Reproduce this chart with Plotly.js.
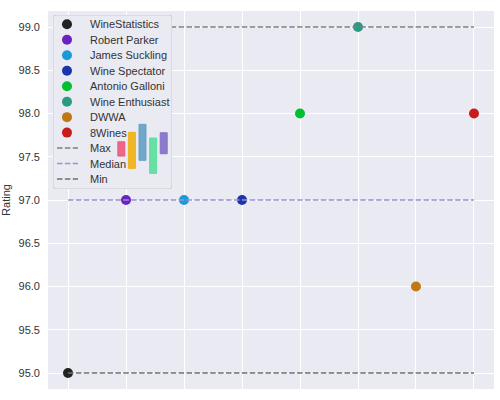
<!DOCTYPE html>
<html>
<head>
<meta charset="utf-8">
<script src="https://cdn.plot.ly/plotly-3.0.1.min.js"></script>
<style>html,body{margin:0;padding:0;background:#fff}#chart{width:500px;height:400px}</style>
</head>
<body>
<div id="chart"></div>
<script>
// ---- data ----
const sources = ['WineStatistics','Robert Parker','James Suckling','Wine Spectator','Antonio Galloni','Wine Enthusiast','DWWA','8Wines'];
const ratings = [95, 97, 97, 97, 98, 99, 96, 98];
const sourceColors = ['#222222','#6a22c0','#1a9ad6','#1a35a8','#00c030','#2a9a82','#c07814','#c81c1c'];
const statLabels = ['Max','Median','Min'];
const statValues = [99, 97, 95];
const statColors = ['#808080','#9a8fd6','#707070'];
const yTicks = [95.0, 95.5, 96.0, 96.5, 97.0, 97.5, 98.0, 98.5, 99.0];
// small decorative bars inside the legend
const insetIdx = [0, 1, 2, 3, 4];
const insetLow = [22, 9.7, 17.7, 4.7, 24.3];
const insetHigh = [36.3, 45.7, 53.7, 40, 45.3];
const insetColors = ['rgba(236,80,118,0.85)','rgba(240,176,16,0.9)','rgba(100,160,196,0.9)','rgba(90,222,156,0.9)','rgba(130,110,200,0.9)'];

const FONT = 'Liberation Sans, Arial, sans-serif';
const TXT = '#333333';
const xs = sources.map((_, i) => i);
const traces = [];

// main points
sources.forEach((s, i) => {
  traces.push({type:'scatter', mode:'markers', x:[xs[i]], y:[ratings[i]], name:s,
    marker:{color:sourceColors[i], size:10}, showlegend:false, hoverinfo:'skip'});
});
// stat lines
statLabels.forEach((s, j) => {
  traces.push({type:'scatter', mode:'lines', x:[xs[0], xs[xs.length-1]], y:[statValues[j], statValues[j]], name:s,
    line:{color:statColors[j], width:1.5, dash:'5.5px,2.4px'}, showlegend:false, hoverinfo:'skip'});
});

// legend (x2/y2): markers
const LM = 14, LT = 35, L0 = 4, L1 = 25;
traces.push({type:'scatter', mode:'markers', xaxis:'x2', yaxis:'y2',
  x: sources.map(() => LM), y: sources.map((_, i) => i),
  marker:{color:sourceColors, size:10}, showlegend:false, hoverinfo:'skip'});
statLabels.forEach((s, j) => {
  const row = sources.length + j;
  traces.push({type:'scatter', mode:'lines', xaxis:'x2', yaxis:'y2', x:[L0, L1], y:[row, row],
    line:{color:statColors[j], width:1.5, dash:'5.5px,2.4px'}, showlegend:false, hoverinfo:'skip'});
});
const legendNames = sources.concat(statLabels);
const annotations = legendNames.map((n, i) => ({xref:'x2', yref:'y2', x:LT, y:i, text:n, showarrow:false,
  xanchor:'left', yanchor:'middle', font:{family:FONT, size:11, color:TXT}}));

// inset bars (x3/y3)
traces.push({type:'bar', xaxis:'x3', yaxis:'y3', x:insetIdx, base:insetLow,
  y:insetHigh.map((h, i) => h - insetLow[i]), width:0.66,
  marker:{color:insetColors, line:{color:insetColors, width:1}}, showlegend:false, hoverinfo:'skip'});

// rounded legend frame in legend-axis units
const bx0 = 0, bx1 = 119, by0 = -0.601, by1 = 10.646, rx = 3, ry = 0.2;
const framePath = `M ${bx0+rx},${by0} L ${bx1-rx},${by0} Q ${bx1},${by0} ${bx1},${by0+ry} L ${bx1},${by1-ry} Q ${bx1},${by1} ${bx1-rx},${by1} L ${bx0+rx},${by1} Q ${bx0},${by1} ${bx0},${by1-ry} L ${bx0},${by0+ry} Q ${bx0},${by0} ${bx0+rx},${by0} Z`;

const layout = {
  width:500, height:400,
  margin:{l:48, r:6, t:11, b:11, pad:0},
  paper_bgcolor:'#ffffff', plot_bgcolor:'#eaeaf2',
  font:{family:FONT, size:11, color:TXT},
  showlegend:false,
  xaxis:{range:[-0.345, 7.345], tickvals:xs, showticklabels:false, ticks:'', showgrid:true, gridcolor:'#ffffff', gridwidth:1, zeroline:false, showline:false},
  yaxis:{range:[94.815, 99.185], tickvals:yTicks, tickformat:'.1f', ticks:'', showgrid:true, gridcolor:'#ffffff', gridwidth:1, zeroline:false, showline:false,
    ticklabelstandoff:7,
    tickfont:{family:FONT, size:11, color:TXT}, title:{text:'Rating', font:{family:FONT, size:11, color:TXT}, standoff:6}},
  xaxis2:{domain:[0.0112, 0.278], range:[0, 119], anchor:'y2', showgrid:false, zeroline:false, showticklabels:false, ticks:'', showline:false},
  yaxis2:{domain:[0.529, 0.9894], range:[10.646, -0.601], anchor:'x2', showgrid:false, zeroline:false, showticklabels:false, ticks:'', showline:false},
  xaxis3:{domain:[0.1525, 0.2713], range:[-0.5, 4.5], anchor:'y3', visible:false},
  yaxis3:{domain:[0.558, 0.7116], range:[0, 58], anchor:'x3', visible:false},
  shapes:[{type:'path', xref:'x2', yref:'y2', path:framePath, line:{color:'#cccccc', width:1}, fillcolor:'rgba(0,0,0,0)', layer:'above'}],
  annotations: annotations
};

Plotly.newPlot('chart', traces, layout, {displayModeBar:false, staticPlot:true});
</script>
</body>
</html>
